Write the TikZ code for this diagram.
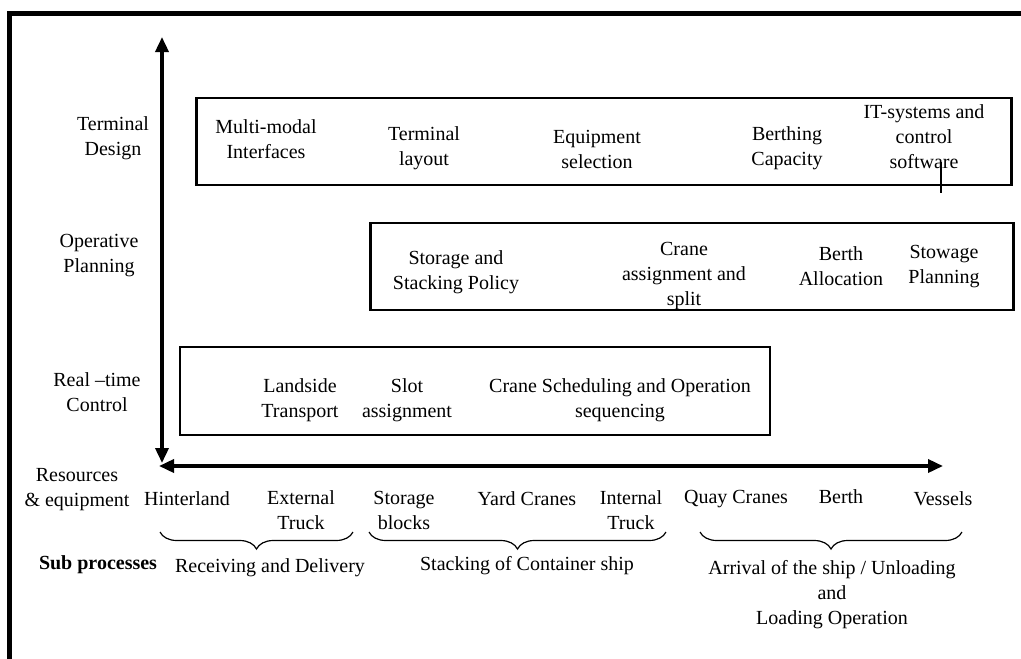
\documentclass[tikz,border=0pt]{standalone}
\usepackage{fontspec}
\setmainfont{Liberation Serif}
\usetikzlibrary{arrows.meta}
\usetikzlibrary{decorations.pathreplacing}

\tikzset{
  axis/.style={line width=3.5pt, {Triangle[length=15pt,width=13pt]}-{Triangle[length=15pt,width=13pt]}},
  band/.style={draw, line width=2.5pt, inner sep=0pt},
  txt/.style={align=center, inner sep=0pt, font=\fontsize{20}{25}\selectfont},
  brc/.style={decorate, decoration={brace, mirror, amplitude=17pt}, line width=1.2pt},
}

\begin{document}
\begin{tikzpicture}[x=1pt,y=-1pt]
\useasboundingbox (0,0) rectangle (1021,659);
\fill[white] (0,0) rectangle (1021,659);
\draw[line width=4.5pt] (9.5,670) -- (9.5,13.5) -- (1030,13.5);

% axes
\coordinate (ytop) at (162,37);
\coordinate (ybot) at (162,463);
\coordinate (xleft) at (159,466);
\coordinate (xright) at (943,466);
\draw[axis] (ybot) -- (ytop);
\draw[axis] (xleft) -- (xright);

% levels
\node[txt] (lvldesign) at (113,138) {Terminal\\Design};
\node[txt] (lvlplan) at (99,256) {Operative\\Planning};
\node[txt] (lvlctrl) at (97,392) {Real –time\\Control};
\node[txt] (lvlres) at (77,490) {Resources\\\& equipment};
\node[txt, font=\fontsize{20}{25}\selectfont\bfseries] (lvlsub) at (98,565) {Sub processes};

% boxes
\node[band, minimum width=815, minimum height=87] (design) at (604,141.5) {};
\node[band, minimum width=643, minimum height=87] (plan) at (692,266.5) {};
\node[band, minimum width=590, minimum height=88] (ctrl) at (475,391) {};

\node[txt] (multimodal) at (266,139.5) {Multi-modal\\Interfaces};
\node[txt] (layout) at (424,148) {Terminal\\layout};
\node[txt] (equip) at (597,149) {Equipment\\selection};
\node[txt] (berthcap) at (787,148) {Berthing\\Capacity};
\node[txt] (itsys) at (924,137) {IT-systems and\\control\\software};
\draw[line width=2pt] (941,162) -- (941,193);

\node[txt] (stacking) at (456,272) {Storage and\\Stacking Policy};
\node[txt] (craneassign) at (684,276) {Crane\\assignment and\\split};
\node[txt] (berthalloc) at (841,266.5) {Berth\\Allocation};
\node[txt] (stowage) at (944,266.5) {Stowage\\Planning};

\node[txt] (landside) at (300,400) {Landside\\Transport};
\node[txt] (slot) at (407,400) {Slot\\assignment};
\node[txt] (cranesched) at (620,400) {Crane Scheduling and Operation\\sequencing};

% resources
\node[txt] (hinter) at (187,499) {Hinterland};
\node[txt] (extruck) at (301,510) {External\\Truck};
\node[txt] (storblk) at (404,510) {Storage\\blocks};
\node[txt] (yardcr) at (527,499) {Yard Cranes};
\node[txt] (inttruck) at (631,510) {Internal\\Truck};
\node[txt] (quaycr) at (736,499) {Quay Cranes};
\node[txt] (berth) at (841,497) {Berth};
\node[txt] (vessels) at (943,499) {Vessels};

% sub processes
\draw[brc] (160,532) -- (353,532);
\draw[brc] (369,532) -- (666,532);
\draw[brc] (700,532) -- (962,532);
\node[txt] (recdel) at (270,568) {Receiving and Delivery};
\node[txt] (stackship) at (527,566) {Stacking of Container ship};
\node[txt] (arrival) at (832,595) {Arrival of the ship / Unloading\\and\\Loading Operation};
\end{tikzpicture}
\end{document}
